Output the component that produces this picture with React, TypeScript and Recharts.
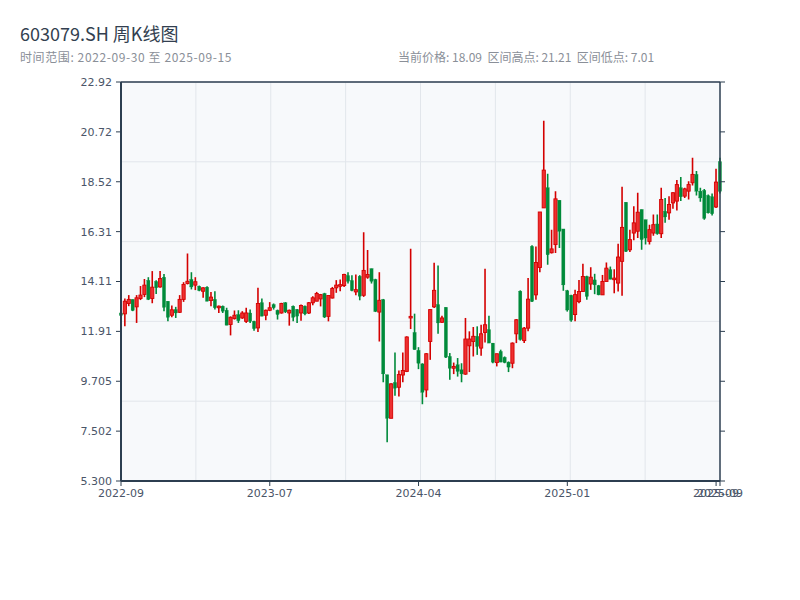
import React from 'react';
import { ComposedChart, Bar, XAxis, YAxis, CartesianGrid, ReferenceLine } from 'recharts';

const openP = [
  12.72, 12.68, 13.14, 13.32, 12.99, 13.36, 13.54, 14.16, 13.36, 14.11,
  13.87, 14.30, 13.24, 12.62, 12.87, 12.75, 13.32, 14.02, 14.20, 13.95,
  13.90, 13.68, 13.86, 13.27, 13.32, 12.95, 13.02, 12.84, 12.21, 12.47,
  12.65, 12.50, 12.35, 12.72, 12.35, 12.06, 13.17, 12.62, 12.84, 13.09,
  12.84, 12.72, 13.17, 12.72, 13.02, 12.87, 12.72, 13.02, 12.72, 13.17,
  13.24, 13.34, 13.58, 12.57, 13.38, 13.83, 13.90, 13.93, 14.37, 14.15,
  13.65, 14.34, 13.50, 14.30, 14.68, 14.20, 12.76, 13.31, 9.99, 8.07,
  9.65, 9.44, 9.98, 10.14, 12.50, 11.86, 11.07, 10.47, 9.32, 11.46,
  12.99, 13.09, 12.31, 12.97, 10.80, 10.28, 10.43, 10.21, 10.02, 11.27,
  11.46, 11.69, 11.17, 11.86, 11.98, 11.39, 10.53, 11.02, 10.76, 10.55,
  10.50, 11.80, 13.68, 11.50, 12.05, 15.66, 13.52, 14.73, 17.36, 18.25,
  15.38, 15.74, 17.70, 16.43, 13.70, 13.50, 12.65, 13.22, 13.67, 14.33,
  14.00, 14.18, 13.93, 13.52, 14.11, 14.63, 14.19, 14.04, 15.00, 17.61,
  15.51, 16.25, 16.33, 17.29, 16.84, 15.88, 16.25, 16.65, 16.22, 17.21,
  17.14, 17.58, 17.66, 18.25, 17.88, 18.10, 18.47, 18.84, 18.10, 18.13,
  17.90, 17.85, 17.40, 19.40,
];
const highP = [
  12.75, 13.36, 13.51, 13.32, 13.51, 13.91, 14.22, 14.30, 14.57, 14.17,
  14.57, 14.44, 13.24, 13.05, 12.99, 13.51, 14.08, 15.35, 14.52, 14.30,
  13.93, 13.86, 13.90, 13.65, 13.68, 13.05, 13.05, 12.95, 12.57, 12.83,
  12.84, 12.80, 12.95, 12.87, 12.38, 13.83, 13.36, 12.87, 13.20, 13.14,
  12.87, 13.17, 13.20, 12.87, 13.05, 12.90, 13.09, 13.05, 13.20, 13.46,
  13.65, 13.56, 13.61, 13.50, 13.87, 14.17, 14.20, 14.45, 14.52, 14.39,
  14.42, 14.39, 16.29, 15.50, 14.68, 14.23, 14.52, 13.34, 9.99, 9.62,
  10.98, 10.18, 10.98, 11.69, 15.56, 12.69, 11.21, 10.50, 10.95, 12.87,
  14.94, 14.82, 12.60, 12.97, 10.95, 10.53, 10.73, 10.50, 12.50, 11.91,
  12.10, 12.13, 12.20, 14.67, 12.60, 11.39, 10.92, 11.10, 10.80, 10.58,
  11.42, 12.45, 13.72, 12.10, 14.26, 15.71, 15.66, 17.18, 21.21, 18.87,
  16.40, 18.10, 17.70, 16.43, 13.74, 13.52, 13.75, 14.18, 14.89, 14.36,
  14.74, 14.45, 13.96, 14.40, 14.95, 14.77, 14.65, 15.78, 18.29, 17.61,
  16.40, 17.43, 18.03, 17.29, 16.84, 16.62, 17.07, 17.07, 18.25, 17.80,
  17.88, 18.05, 18.59, 18.73, 18.25, 18.54, 19.58, 18.99, 18.25, 18.20,
  17.95, 18.00, 19.09, 19.58,
];
const lowP = [
  12.58, 12.13, 13.02, 12.80, 12.28, 13.29, 13.42, 13.29, 13.15, 13.56,
  13.83, 12.80, 12.35, 12.53, 12.50, 12.72, 13.21, 13.98, 13.76, 13.73,
  13.68, 13.39, 13.24, 13.02, 12.87, 12.72, 12.72, 12.18, 11.73, 12.43,
  12.28, 12.46, 12.28, 12.28, 11.94, 11.88, 12.58, 12.40, 12.80, 12.87,
  12.43, 12.69, 12.72, 12.16, 12.35, 12.28, 12.38, 12.62, 12.68, 13.06,
  13.24, 13.01, 12.50, 12.35, 13.36, 13.61, 13.68, 13.87, 14.02, 13.68,
  13.50, 13.28, 13.43, 14.23, 14.02, 12.76, 11.46, 9.66, 7.01, 8.07,
  9.07, 9.03, 9.66, 10.11, 12.01, 11.10, 10.24, 8.69, 9.00, 10.65,
  12.94, 11.80, 12.28, 10.73, 9.77, 10.02, 9.91, 9.66, 9.99, 10.11,
  10.80, 10.87, 10.83, 11.42, 11.39, 10.50, 10.36, 10.55, 10.50, 10.11,
  10.28, 11.39, 11.50, 11.39, 11.91, 13.20, 13.30, 14.52, 17.36, 14.85,
  15.35, 15.37, 15.59, 13.70, 12.78, 12.33, 12.35, 13.15, 13.67, 13.30,
  13.74, 13.55, 13.50, 13.52, 14.11, 14.21, 13.59, 13.67, 13.48, 15.41,
  15.41, 15.93, 16.03, 15.51, 15.74, 15.74, 16.13, 16.18, 16.03, 16.70,
  16.84, 17.32, 17.24, 17.66, 17.80, 17.73, 18.35, 17.91, 17.63, 16.84,
  17.11, 17.02, 17.36, 18.00,
];
const closeP = [
  12.61, 13.24, 13.32, 12.83, 13.39, 13.51, 13.95, 13.32, 13.86, 13.83,
  14.24, 12.97, 12.53, 12.86, 12.72, 13.32, 13.98, 14.12, 13.87, 14.10,
  13.71, 13.83, 13.24, 13.42, 12.95, 13.02, 12.80, 12.18, 12.53, 12.62,
  12.38, 12.72, 12.72, 12.35, 12.03, 13.14, 12.58, 12.84, 12.95, 12.95,
  12.65, 13.14, 12.77, 12.84, 12.53, 12.58, 13.05, 12.68, 13.17, 13.39,
  13.58, 13.53, 12.54, 13.49, 13.80, 13.95, 13.97, 14.42, 14.12, 13.71,
  13.75, 13.46, 14.60, 14.42, 14.12, 12.79, 13.28, 10.03, 8.07, 9.59,
  9.40, 10.00, 10.18, 11.66, 12.57, 11.10, 10.50, 9.22, 10.92, 12.87,
  13.72, 12.28, 12.50, 10.77, 10.28, 10.36, 10.14, 10.03, 11.57, 11.57,
  11.69, 11.24, 11.80, 12.20, 11.39, 10.55, 10.92, 10.55, 10.53, 10.33,
  11.39, 12.42, 11.55, 12.05, 13.33, 13.23, 14.95, 17.18, 19.03, 15.29,
  15.55, 17.76, 16.33, 13.96, 12.85, 12.40, 13.53, 13.67, 14.33, 13.45,
  14.30, 13.96, 13.52, 14.11, 14.70, 14.21, 14.26, 15.19, 16.50, 15.44,
  15.96, 16.70, 17.17, 15.96, 16.03, 16.40, 16.62, 16.22, 17.73, 16.96,
  17.51, 18.03, 18.39, 17.85, 18.20, 18.39, 18.84, 18.10, 17.80, 16.90,
  17.14, 17.10, 18.50, 18.09,
];

const xTickIdx = [0, 38, 76, 114, 152, 153];
const xTickLabels = ['2022-09', '2023-07', '2024-04', '2025-01', '2025-09', '2025-09'];
const yTicks = [5.3, 7.5025, 9.705, 11.9075, 14.11, 16.3125, 18.515, 20.7175, 22.92];
const yTickLabels = ['5.300', '7.502', '9.705', '11.91', '14.11', '16.31', '18.52', '20.72', '22.92'];
const gridY = [0, 1, 2, 3, 4, 5];
const GRID_COLS = 8;

const data = openP.map((o, i) => ({
  i,
  open: o,
  high: highP[i],
  low: lowP[i],
  close: closeP[i],
}));

const RED = '#d40000';
const RED_FILL = '#ee3030';
const GREEN = '#008a3a';

const Candle = (props: any) => {
  const { x, y, width, height, payload } = props;
  if (!payload || x == null || y == null) return null;
  const { open, close, high, low } = payload;
  const cx = x + (width || 0) / 2;
  const yTop = Math.min(y, y + height);
  const yBot = Math.max(y, y + height);
  const span = high - low;
  const toY = (v: number) => (span > 0 ? yBot - ((v - low) / span) * (yBot - yTop) : yTop);
  const up = close >= open;
  const bTop = toY(Math.max(open, close));
  const bBot = toY(Math.min(open, close));
  const bh = Math.max(bBot - bTop, 1);
  const color = up ? RED : GREEN;
  return (
    <g>
      <line x1={cx} x2={cx} y1={yTop} y2={yBot} stroke={color} strokeWidth={1.6} />
      <rect
        x={cx - 1.6}
        y={bTop}
        width={3.2}
        height={bh}
        fill={up ? RED_FILL : GREEN}
        stroke={color}
        strokeWidth={up ? 0.9 : 0.3}
      />
    </g>
  );
};

const verticalGrid = (props: any) => {
  const off = props.offset || {};
  const left = off.left ?? 121;
  const w = off.width ?? 599;
  const out: number[] = [];
  for (let k = 1; k < GRID_COLS; k++) out.push(left + (w * k) / GRID_COLS);
  return out;
};

const tickStyle = { fontSize: 11, fill: '#4a5568', fontFamily: 'DejaVu Sans' };
const AXIS = '#2c3e50';
const TEXT_FONT = '"Noto Sans CJK SC", "Noto Sans", sans-serif';

export default function App() {
  return (
    <div style={{ position: 'absolute', left: 0, top: 0, width: 800, height: 600, background: '#fff' }}>
      <div
        style={{
          position: 'absolute',
          left: 20,
          top: 24,
          fontSize: 18,
          lineHeight: '18px',
          color: '#333f50',
          fontFamily: TEXT_FONT,
          whiteSpace: 'nowrap',
        }}
      >
        603079.SH 周K线图
      </div>
      <div
        style={{
          position: 'absolute',
          left: 20,
          top: 51,
          fontSize: 12,
          lineHeight: '12px',
          color: '#8a8f98',
          fontFamily: TEXT_FONT,
          whiteSpace: 'nowrap',
          letterSpacing: 0.6,
        }}
      >
        时间范围: 2022-09-30 至 2025-09-15
      </div>
      <div
        style={{
          position: 'absolute',
          left: 398,
          top: 51,
          fontSize: 12,
          lineHeight: '12px',
          color: '#8a8f98',
          fontFamily: TEXT_FONT,
          whiteSpace: 'pre',
        }}
      >
        {'当前价格: 18.09  区间高点: 21.21  区间低点: 7.01'}
      </div>
      <div style={{ position: 'absolute', left: 0, top: 0 }}>
        <ComposedChart
          width={800}
          height={600}
          data={data}
          margin={{ top: 82, right: 70, bottom: 89, left: 61 }}
        >
          <YAxis yAxisId="g" type="number" domain={[0, 5]} ticks={gridY} allowDataOverflow hide />
          <CartesianGrid
            yAxisId="g"
            stroke="#e2e6eb"
            strokeWidth={1}
            fill="#f7f9fb"
            verticalCoordinatesGenerator={verticalGrid}
          />
          <XAxis
            dataKey="i"
            type="number"
            domain={[0, 153]}
            ticks={xTickIdx}
            interval={0}
            tickFormatter={(v: number) => {
              const k = xTickIdx.indexOf(v);
              return k >= 0 ? xTickLabels[k] : '';
            }}
            height={30}
            tick={tickStyle}
            tickSize={5}
            tickMargin={3}
            axisLine={{ stroke: AXIS, strokeWidth: 2 }}
            tickLine={{ stroke: AXIS }}
          />
          <YAxis
            type="number"
            domain={[5.3, 22.92]}
            ticks={yTicks}
            interval={0}
            allowDataOverflow
            width={60}
            tickFormatter={(v: number) => {
              const k = yTicks.indexOf(v);
              return k >= 0 ? yTickLabels[k] : String(v);
            }}
            tick={tickStyle}
            tickSize={5}
            tickMargin={4}
            axisLine={{ stroke: AXIS, strokeWidth: 2 }}
            tickLine={{ stroke: AXIS }}
          />
          <YAxis
            yAxisId="right"
            orientation="right"
            type="number"
            domain={[5.3, 22.92]}
            ticks={yTicks}
            interval={0}
            allowDataOverflow
            width={10}
            tickFormatter={() => ''}
            tickSize={5}
            axisLine={{ stroke: AXIS, strokeWidth: 1.5 }}
            tickLine={{ stroke: AXIS }}
          />
          <ReferenceLine y={22.92} stroke={AXIS} strokeWidth={1.5} />
          <Bar
            dataKey={(d: any) => [d.low, d.high]}
            shape={<Candle />}
            isAnimationActive={false}
          />
        </ComposedChart>
      </div>
    </div>
  );
}
